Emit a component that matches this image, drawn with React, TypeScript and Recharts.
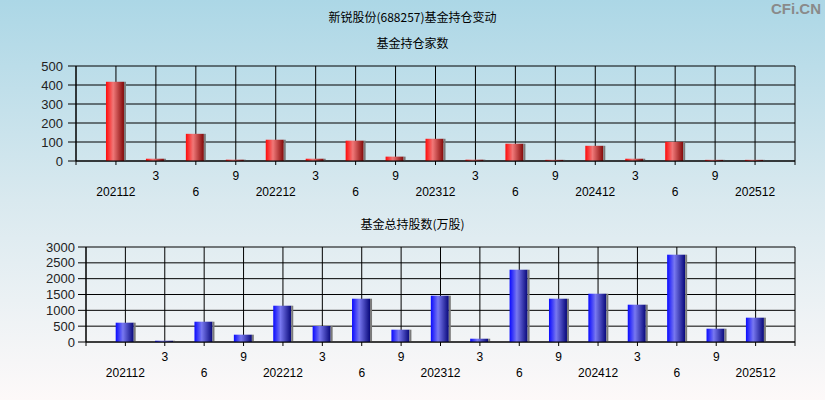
import React from "react";
import { BarChart, Bar, XAxis, YAxis, CartesianGrid } from "recharts";

const periods = ["202112", "3", "6", "9", "202212", "3", "6", "9", "202312", "3", "6", "9", "202412", "3", "6", "9", "202512"];
const fundCount = [417, 12, 143, 7, 112, 12, 107, 23, 117, 7, 91, 6, 80, 12, 101, 6, 6];
const fundShares = [610, 40, 641, 231, 1146, 505, 1367, 389, 1462, 104, 2283, 1367, 1525, 1178, 2757, 420, 768];
const countTicks = [0, 100, 200, 300, 400, 500];
const shareTicks = [0, 500, 1000, 1500, 2000, 2500, 3000];

const rows = periods.map((label, i) => ({ pos: i + 1, label, count: fundCount[i], shares: fundShares[i] }));
const posTicks = Array.from({ length: periods.length + 2 }, (_, i) => i);

const TICK_FONT = "'Liberation Sans', Arial, sans-serif";
const CJK_FONT = "'Noto Sans CJK SC', 'Noto Sans', sans-serif";

function PeriodTick(props: any) {
	const { x, y, payload } = props;
	const i = payload.value - 1;
	const label = periods[i];
	if (!label) return null;
	const dy = i % 2 === 1 ? 11 : 27;
	return (
		<text x={x} y={y + dy} textAnchor="middle" dominantBaseline="central" fontSize={12} fontFamily={TICK_FONT} fill="#000">
			{label}
		</text>
	);
}

function makeShape(gradId: string) {
	return (props: any) => {
		const { x, y, width, height } = props;
		if (!height || height <= 0) return null;
		return (
			<g>
				<rect x={x} y={y} width={width - 2} height={height} fill={`url(#${gradId})`} />
				<rect x={x + width - 2} y={y} width={2} height={height} fill="#7a7a7a" />
			</g>
		);
	};
}

function Gradients() {
	return (
		<defs>
			<linearGradient id="redBar" x1="0" y1="0" x2="1" y2="0">
				<stop offset="0%" stopColor="#ff0a0a" />
				<stop offset="40%" stopColor="#f07878" />
				<stop offset="100%" stopColor="#820808" />
			</linearGradient>
			<linearGradient id="blueBar" x1="0" y1="0" x2="1" y2="0">
				<stop offset="0%" stopColor="#0a0aff" />
				<stop offset="40%" stopColor="#7878f0" />
				<stop offset="100%" stopColor="#08087a" />
			</linearGradient>
		</defs>
	);
}

const titleStyle: React.CSSProperties = {
	position: "absolute",
	left: 0,
	width: 825,
	textAlign: "center",
	fontFamily: CJK_FONT,
	fontSize: 12,
	color: "#000",
	lineHeight: "16px",
};

export default function App() {
	return (
		<div
			style={{
				position: "relative",
				width: 825,
				height: 400,
				overflow: "hidden",
				background: "linear-gradient(to bottom, #acd7e6 0%, #d9e9ef 50%, #fdf9f9 100%)",
			}}
		>
			<style>{`body{margin:0}`}</style>
			<div style={{ ...titleStyle, top: 9 }}>新锐股份(688257)基金持仓变动</div>
			<div style={{ ...titleStyle, top: 35 }}>基金持仓家数</div>
			<div style={{ ...titleStyle, top: 216 }}>基金总持股数(万股)</div>
			<div
				style={{
					position: "absolute",
					right: 4,
					top: 0,
					fontFamily: TICK_FONT,
					fontWeight: "bold",
					fontSize: 15,
					color: "#8a8a8a",
				}}
			>
				CFi.CN
			</div>

			<div style={{ position: "absolute", left: 0, top: 0 }}>
				<BarChart width={825} height={200} data={rows} margin={{ top: 66, right: 30, left: 0, bottom: 9 }}>
					<Gradients />
					<CartesianGrid stroke="#000" strokeOpacity={1} fill="none" />
					<XAxis
						dataKey="pos"
						type="number"
						domain={[0, 18]}
						ticks={posTicks}
						interval={0}
						height={30}
						tickSize={4}
						tickMargin={0}
						axisLine={{ stroke: "#000" }}
						tickLine={{ stroke: "#000" }}
						tick={<PeriodTick />}
					/>
					<YAxis
						width={76}
						domain={[0, 500]}
						ticks={countTicks}
						interval={0}
						tickSize={8}
						tickMargin={5}
						axisLine={{ stroke: "#000" }}
						tickLine={{ stroke: "#000" }}
						tick={{ fontSize: 13, fontFamily: TICK_FONT, fill: "#222" }}
					/>
					<Bar dataKey="count" barSize={20} isAnimationActive={false} shape={makeShape("redBar")} />
				</BarChart>
			</div>

			<div style={{ position: "absolute", left: 0, top: 200 }}>
				<BarChart width={825} height={200} data={rows} margin={{ top: 47, right: 30, left: 0, bottom: 28 }}>
					<Gradients />
					<CartesianGrid stroke="#000" strokeOpacity={1} fill="none" />
					<XAxis
						dataKey="pos"
						type="number"
						domain={[0, 18]}
						ticks={posTicks}
						interval={0}
						height={30}
						tickSize={4}
						tickMargin={0}
						axisLine={{ stroke: "#000" }}
						tickLine={{ stroke: "#000" }}
						tick={<PeriodTick />}
					/>
					<YAxis
						width={86}
						domain={[0, 3000]}
						ticks={shareTicks}
						interval={0}
						tickSize={8}
						tickMargin={3}
						axisLine={{ stroke: "#000" }}
						tickLine={{ stroke: "#000" }}
						tick={{ fontSize: 13, fontFamily: TICK_FONT, fill: "#222" }}
					/>
					<Bar dataKey="shares" barSize={20} isAnimationActive={false} shape={makeShape("blueBar")} />
				</BarChart>
			</div>
		</div>
	);
}
